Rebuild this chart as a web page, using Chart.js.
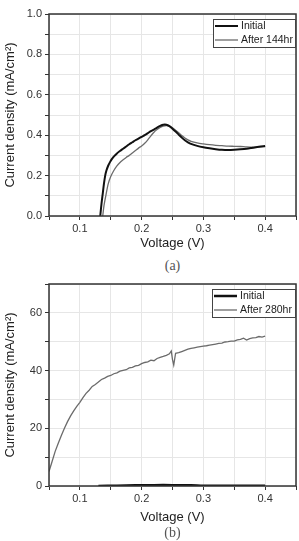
<!DOCTYPE html>
<html>
<head>
<meta charset="utf-8">
<script src="https://cdn.jsdelivr.net/npm/chart.js@4"></script>
<style>
  body { margin: 0; background: #fff; }
  #page { position: relative; width: 299px; height: 541px; overflow: hidden; }
  .box { position: absolute; left: 0; width: 299px; }
  .cap { position: absolute; left: 0; width: 345px; text-align: center;
         font-family: "Liberation Serif", "DejaVu Serif", serif; font-size: 14px; color: #555; }
</style>
</head>
<body>
<div id="page">
  <div class="box" style="top:0;height:256px"><canvas id="chartA" width="299" height="256"></canvas></div>
  <div class="cap" style="top:258px">(a)</div>
  <div class="box" style="top:270px;height:256px"><canvas id="chartB" width="299" height="256"></canvas></div>
  <div class="cap" style="top:525px">(b)</div>
</div>
<script>
// ---- data for chart (a) ----
const aInitV = [0.133, 0.135, 0.137, 0.139, 0.141, 0.143, 0.146, 0.149, 0.152, 0.156, 0.160, 0.165, 0.170, 0.175, 0.180, 0.185, 0.190, 0.195, 0.200, 0.205, 0.210, 0.215, 0.220, 0.225, 0.230, 0.235, 0.240, 0.245, 0.250, 0.255, 0.260, 0.265, 0.270, 0.275, 0.280, 0.290, 0.300, 0.310, 0.320, 0.330, 0.340, 0.350, 0.360, 0.370, 0.380, 0.390, 0.400];
const aInitJ = [0, 0.06, 0.11, 0.16, 0.20, 0.225, 0.25, 0.268, 0.283, 0.298, 0.31, 0.322, 0.333, 0.344, 0.355, 0.365, 0.375, 0.383, 0.392, 0.400, 0.410, 0.420, 0.428, 0.438, 0.446, 0.452, 0.452, 0.445, 0.432, 0.418, 0.403, 0.388, 0.375, 0.365, 0.357, 0.347, 0.340, 0.335, 0.331, 0.328, 0.327, 0.328, 0.330, 0.333, 0.338, 0.343, 0.347];
const aAfterV = [0.137, 0.139, 0.142, 0.146, 0.150, 0.155, 0.160, 0.165, 0.170, 0.175, 0.180, 0.185, 0.190, 0.195, 0.200, 0.205, 0.210, 0.215, 0.220, 0.225, 0.230, 0.235, 0.240, 0.245, 0.250, 0.255, 0.260, 0.265, 0.270, 0.275, 0.280, 0.290, 0.300, 0.310, 0.320, 0.330, 0.340, 0.350, 0.360, 0.370, 0.380, 0.390, 0.400];
const aAfterJ = [0, 0.05, 0.10, 0.16, 0.195, 0.225, 0.248, 0.265, 0.278, 0.29, 0.30, 0.312, 0.324, 0.336, 0.347, 0.36, 0.377, 0.397, 0.415, 0.428, 0.438, 0.445, 0.448, 0.445, 0.437, 0.425, 0.412, 0.398, 0.386, 0.377, 0.370, 0.362, 0.357, 0.353, 0.350, 0.348, 0.346, 0.345, 0.344, 0.342, 0.341, 0.342, 0.344];

// ---- data for chart (b) ----
const bInitV = [0.13, 0.16, 0.19, 0.22, 0.25, 0.28, 0.30, 0.34, 0.37, 0.40];
const bInitJ = [0, 0.1, 0.25, 0.3, 0.3, 0.25, 0.1, 0.05, 0.05, 0.05];
const bAfterV = [0.050, 0.055, 0.060, 0.065, 0.070, 0.075, 0.080, 0.085, 0.090, 0.095, 0.100, 0.105, 0.110, 0.115, 0.120, 0.125, 0.130, 0.135, 0.140, 0.145, 0.150, 0.155, 0.160, 0.165, 0.170, 0.175, 0.180, 0.185, 0.190, 0.195, 0.200, 0.205, 0.210, 0.215, 0.220, 0.225, 0.230, 0.235, 0.240, 0.245, 0.248, 0.250, 0.252, 0.255, 0.260, 0.265, 0.270, 0.275, 0.280, 0.285, 0.290, 0.295, 0.300, 0.305, 0.310, 0.315, 0.320, 0.325, 0.330, 0.335, 0.340, 0.345, 0.350, 0.355, 0.360, 0.365, 0.370, 0.375, 0.380, 0.385, 0.390, 0.395, 0.400];
const bAfterJ = [5, 8.5, 12, 14.8, 17.5, 20, 22.3, 24.3, 26, 27.6, 29, 30.6, 32.1, 33.2, 34.5, 35.2, 36.0, 36.9, 37.4, 38.0, 38.3, 38.9, 39.2, 39.8, 40.1, 40.3, 40.9, 41.1, 41.6, 41.8, 42.4, 42.8, 43.0, 43.6, 43.4, 44.2, 44.6, 44.9, 45.3, 45.8, 46.8, 43.8, 41.9, 46.0, 46.2, 46.6, 47.0, 47.4, 47.7, 47.9, 48.1, 48.3, 48.5, 48.6, 48.8, 49.0, 49.2, 49.4, 49.5, 49.9, 50.0, 50.2, 50.2, 50.6, 50.8, 51.2, 50.6, 51.1, 51.3, 51.4, 51.8, 51.6, 51.9];

const toPts = (xs, ys) => xs.map((x, i) => ({ x: x, y: ys[i] }));

// frame + legend drawn inside the plot area
const framePlugin = {
  id: "frameBox",
  afterDraw(chart, args, opts) {
    const c = chart.ctx, a = chart.chartArea;
    c.save();
    c.strokeStyle = "#333";
    c.lineWidth = 1.5;
    c.strokeRect(a.left, a.top, a.right - a.left, a.bottom - a.top);
    // legend box
    const bx = a.right - opts.w - 1, by = a.top + 5;
    c.fillStyle = "#fff";
    c.fillRect(bx, by, opts.w, opts.h);
    c.lineWidth = 1;
    c.strokeStyle = "#444";
    c.strokeRect(bx + 0.5, by + 0.5, opts.w, opts.h);
    c.font = "10.5px 'Liberation Sans', Arial, sans-serif";
    c.textBaseline = "middle";
    chart.data.datasets.forEach((ds, i) => {
      const y = by + 7 + i * 14;
      c.strokeStyle = ds.borderColor;
      c.lineWidth = ds.borderWidth;
      c.beginPath();
      c.moveTo(bx + 2, y);
      c.lineTo(bx + 25, y);
      c.stroke();
      c.fillStyle = "#222";
      c.fillText(ds.label, bx + 28, y);
    });
    c.restore();
  }
};

function makeChart(id, datasets, yMax, yStep, yLabel, legendW, titlePad) {
  return new Chart(document.getElementById(id).getContext("2d"), {
    type: "line",
    data: { datasets: datasets },
    plugins: [framePlugin],
    options: {
      responsive: false,
      animation: false,
      layout: { padding: { top: 14, right: 3, left: 0, bottom: 0 } },
      plugins: {
        legend: { display: false },
        tooltip: { enabled: false },
        frameBox: { w: legendW, h: 28 }
      },
      elements: { point: { radius: 0 } },
      scales: {
        x: {
          type: "linear",
          min: 0.05,
          max: 0.45,
          afterFit: (s) => { s.height = 40; },
          ticks: {
            stepSize: 0.05,
            autoSkip: false,
            maxRotation: 0,
            padding: 2,
            color: "#333",
            font: { family: "'Liberation Sans', Arial, sans-serif", size: 11 },
            callback: (v) => {
              const k = Math.round(v * 100);
              return (k % 10 === 0 && k >= 10 && k <= 40) ? (k / 100).toFixed(1) : "";
            }
          },
          grid: { color: "#e6e6e6", tickColor: "#333", tickLength: 4 },
          border: { display: false },
          title: {
            display: true,
            text: "Voltage (V)",
            color: "#222",
            font: { family: "'Liberation Sans', Arial, sans-serif", size: 13, lineHeight: 1 },
            padding: { top: 0, bottom: titlePad }
          }
        },
        y: {
          min: 0,
          max: yMax,
          afterFit: (s) => { s.width = 49; },
          ticks: {
            stepSize: yStep,
            autoSkip: false,
            padding: 3,
            color: "#333",
            font: { family: "'Liberation Sans', Arial, sans-serif", size: 11 },
            callback: yLabel
          },
          grid: { color: "#e6e6e6", tickColor: "#333", tickLength: 4 },
          border: { display: false },
          title: {
            display: true,
            text: "Current density (mA/cm²)",
            color: "#222",
            font: { family: "'Liberation Sans', Arial, sans-serif", size: 13, lineHeight: 1 },
            padding: { top: 3.5, bottom: 0 }
          }
        }
      }
    }
  });
}

makeChart("chartA", [
  { label: "Initial", data: toPts(aInitV, aInitJ), borderColor: "#111", borderWidth: 2, tension: 0.3 },
  { label: "After 144hr", data: toPts(aAfterV, aAfterJ), borderColor: "#6b6b6b", borderWidth: 1.3, tension: 0.3 }
], 1, 0.1, (v) => (Math.round(v * 10) % 2 === 0 ? v.toFixed(1) : ""), 82, 6.5);

makeChart("chartB", [
  { label: "Initial", data: toPts(bInitV, bInitJ), borderColor: "#111", borderWidth: 2.5, tension: 0.3 },
  { label: "After 280hr", data: toPts(bAfterV, bAfterJ), borderColor: "#6b6b6b", borderWidth: 1.3, tension: 0 }
], 70, 10, (v) => (Math.round(v) % 20 === 0 ? String(Math.round(v)) : ""), 83, 2.5);
</script>
</body>
</html>
